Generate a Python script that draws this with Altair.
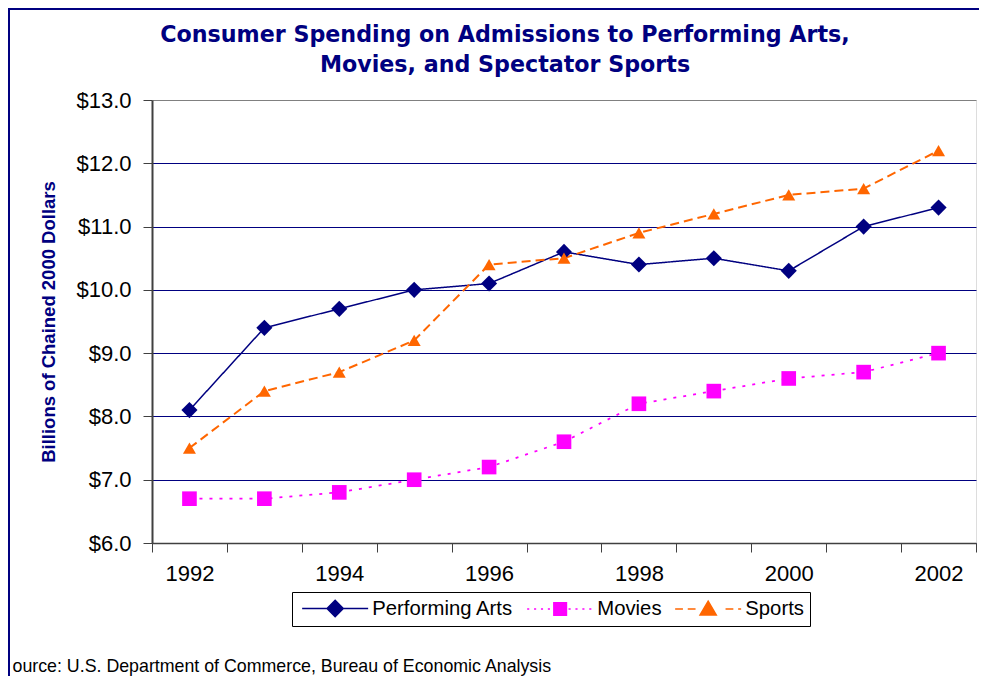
import altair as alt
import pandas as pd

# ---------------- data ----------------
years = list(range(1992, 2003))
performing_arts = [8.1, 9.4, 9.7, 10.0, 10.1, 10.6, 10.4, 10.5, 10.3, 11.0, 11.3]
movies = [6.7, 6.7, 6.8, 7.0, 7.2, 7.6, 8.2, 8.4, 8.6, 8.7, 9.0]
sports = [7.5, 8.4, 8.7, 9.2, 10.4, 10.5, 10.9, 11.2, 11.5, 11.6, 12.2]
series_names = ["Performing Arts", "Movies", "Sports"]
y_ticks = [6, 7, 8, 9, 10, 11, 12, 13]
title_lines = ["Consumer Spending on Admissions to Performing Arts,",
               "Movies, and Spectator Sports"]
y_title = "Billions of Chained 2000 Dollars"
source_note = "ource: U.S. Department of Commerce, Bureau of Economic Analysis"

# ---------------- styles ----------------
FONT = "Liberation Sans"
NAVY = "#000080"
colors = ["#000080", "#FF00FF", "#FF6600"]
dashes = [[1, 0], [3, 7], [9, 5]]
shapes = ["diamond", "square", "triangle-up"]


def dash_path(half_len, dash, gap, skip):
    parts = []
    x = -half_len
    while x < half_len:
        x2 = min(x + dash, half_len)
        if not (x2 > -skip and x < skip):
            parts.append(f"M{x:.2f},0H{x2:.2f}")
        x += dash + gap
    return "".join(parts)


L = 5.5
legend_paths = [
    f"M{-L},0H{-1.2}M1.2,0H{L}M-1.35,0L0,-1.35L1.35,0L0,1.35Z",
    dash_path(L, 0.35, 0.8, 1.3) + "M-1.05,-1.05H1.05V1.05H-1.05Z",
    dash_path(L, 1.3, 0.8, 1.4) + "M0,-1.3L1.35,1.0L-1.35,1.0Z",
]

rows = []
for name, vals in zip(series_names, [performing_arts, movies, sports]):
    for yr, v in zip(years, vals):
        rows.append({"Year": yr, "Value": v, "Series": name})
df = pd.DataFrame(rows)

W, H = 824, 443

x_enc = alt.X(
    "Year:O",
    bandPosition=0.5,
    scale=alt.Scale(type="band", paddingInner=0, paddingOuter=0),
    axis=alt.Axis(
        labelExpr="datum.value % 2 == 0 ? '' + datum.value : ''",
        labelFontSize=22, labelFont=FONT, labelColor="black", labelAngle=0,
        labelPadding=11, labelOverlap=False,
        tickBand="extent", tickSize=9, tickColor="#404040", tickWidth=1,
        domainColor="#404040", domainWidth=1.5, grid=False,
        title=source_note, titleX=-140, titleY=123, titleAlign="left",
        titleBaseline="middle", titleFontSize=17.8, titleFont=FONT,
        titleFontWeight="normal", titleColor="black",
    ),
)
y_enc = alt.Y(
    "Value:Q",
    scale=alt.Scale(domain=[6, 13], nice=False, zero=False),
    axis=alt.Axis(
        values=y_ticks, format="$.1f",
        labelFontSize=22, labelFont=FONT, labelColor="black", labelPadding=12,
        tickSize=9, tickColor="#404040", domainColor="#404040", domainWidth=2,
        grid=True,
        gridColor={"condition": {"test": "datum.value === 13", "value": "#808080"},
                   "value": NAVY},
        gridWidth=1,
        title=y_title, titleFontSize=18.5, titleFont=FONT, titleFontWeight="bold",
        titleColor=NAVY, titleX=-104, titleY=H / 2, titleAngle=270,
        titleAlign="center", titleBaseline="middle",
    ),
)

color_scale = alt.Scale(domain=series_names, range=colors)

lines = alt.Chart(df).mark_line().encode(
    x=x_enc, y=y_enc,
    color=alt.Color("Series:N", scale=color_scale, legend=None),
    strokeDash=alt.StrokeDash("Series:N",
                              scale=alt.Scale(domain=series_names, range=dashes),
                              legend=None),
    strokeWidth=alt.StrokeWidth("Series:N",
                                scale=alt.Scale(domain=series_names, range=[1.5, 2, 2.5]),
                                legend=None),
)

points = alt.Chart(df).mark_point(filled=True, opacity=1).encode(
    x=x_enc, y=y_enc,
    color=alt.Color("Series:N", scale=color_scale, legend=None),
    shape=alt.Shape("Series:N", scale=alt.Scale(domain=series_names, range=shapes),
                    legend=None),
    size=alt.Size("Series:N", scale=alt.Scale(domain=series_names, range=[260, 169, 300]),
                  legend=None),
)

leg = alt.Legend(
    title=None, orient="none", legendX=140, legendY=492, direction="horizontal",
    columns=3, labelFontSize=20.3, labelFont=FONT, labelColor="black",
    symbolSize=144, symbolStrokeWidth=1.5, symbolOffset=27, labelOffset=27,
    columnPadding=9, padding=6, strokeColor="black", fillColor="white",
    labelLimit=300,
)

legend_layer = alt.Chart(df).transform_filter("false").mark_point(
    filled=True, opacity=1, strokeWidth=1.5
).encode(
    x=x_enc, y=y_enc,
    fill=alt.Fill("Series:N", scale=color_scale, legend=leg),
    stroke=alt.Stroke("Series:N", scale=color_scale, legend=leg),
    shape=alt.Shape("Series:N", scale=alt.Scale(domain=series_names, range=legend_paths),
                    legend=leg),
)

frame_df = pd.DataFrame({"k": [0]})
frame_top = alt.Chart(frame_df).mark_rule(color=NAVY, strokeWidth=2).encode(
    x=alt.value(-144), x2=alt.value(W + 12), y=alt.value(-91)
)
frame_left = alt.Chart(frame_df).mark_rule(color=NAVY, strokeWidth=2).encode(
    x=alt.value(-143), y=alt.value(-92), y2=alt.value(H + 133)
)

chart = alt.layer(lines, points, legend_layer, frame_top, frame_left).resolve_scale(
    shape="independent", size="independent", fill="independent", stroke="independent"
).properties(
    width=W, height=H,
    autosize=alt.AutoSizeParams(type="none"),
    padding={"left": 144, "top": 92, "right": 3, "bottom": 133},
    title=alt.TitleParams(
        text=title_lines, fontSize=22.2, font="DejaVu Sans", fontWeight="bold", color=NAVY,
        anchor="middle", frame="group", dx=-59, dy=83, offset=14, lineHeight=30,
    ),
).configure_view(
    fill="#FBEFD8", stroke="#808080", strokeWidth=1
).configure(background="white")

chart.save("out.html", embed_options={"renderer": "svg", "actions": False})
